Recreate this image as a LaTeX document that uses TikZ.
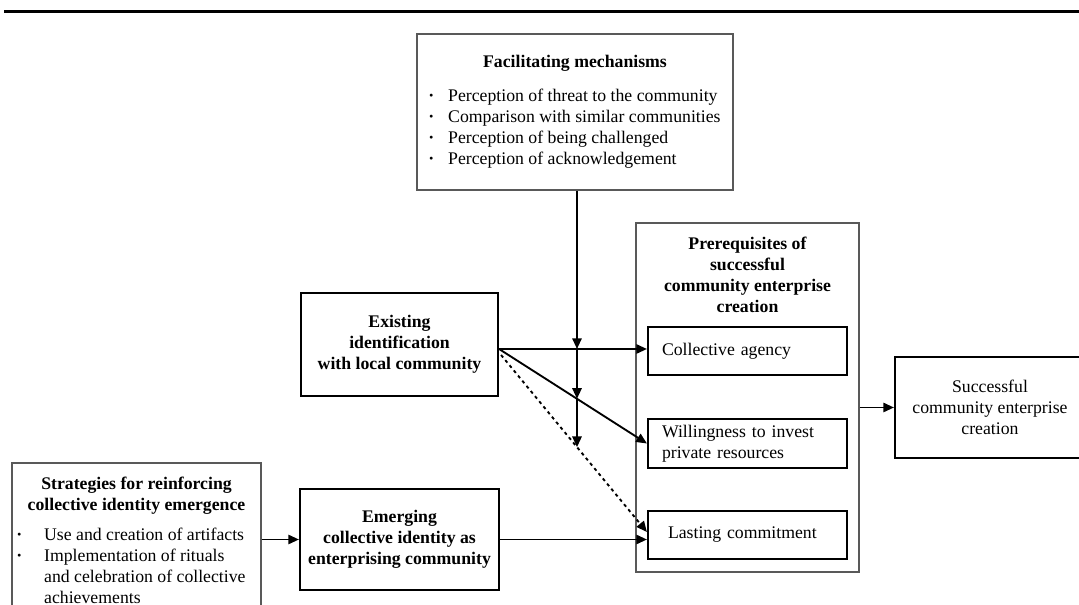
\documentclass[tikz,border=0pt]{standalone}
\usepackage{fontspec}
\setmainfont{Liberation Serif}
\usetikzlibrary{arrows.meta,calc,intersections}

\begin{document}
\begin{tikzpicture}[x=0.75pt,y=-0.75pt,
  every node/.style={font=\fontsize{13.3}{15.75}\selectfont, inner sep=0pt},
  thinbox/.style={draw=black!65, line width=0.8pt},
  thickbox/.style={draw=black, line width=1.6pt, align=center},
  lbl/.style={align=center, font=\fontsize{13.3}{15.75}\selectfont\bfseries},
  tip/.style={-{Triangle[length=8pt,width=7pt]}},
  link/.style={line width=1.4pt, tip},
  dotlink/.style={line width=1.4pt, dash pattern=on 2.4pt off 2.6pt, tip}
]
\useasboundingbox (0,0) rectangle (1079,605);

% rule above the figure
\draw[line width=2.25pt] (4,12) -- (1079,12);

% facilitating mechanisms
\node[thinbox, minimum width=237pt, minimum height=117pt] (fac) at (575,112) {};
\node[lbl] (factitle) at (575,63) {Facilitating mechanisms};
\node[anchor=west] (faclist) at (428,129) {%
  \begin{tabular}{@{}c@{\hspace{10.5pt}}l@{}}
  \textbf{·} & Perception of threat to the community\\
  \textbf{·} & Comparison with similar communities\\
  \textbf{·} & Perception of being challenged\\
  \textbf{·} & Perception of acknowledgement
  \end{tabular}};

% prerequisites
\node[thinbox, minimum width=167.25pt, minimum height=261.75pt] (pre) at (747.5,397.5) {};
\node[lbl] (pretitle) at (747.5,274.5) {Prerequisites of\\successful\\community enterprise\\creation};
\node[thickbox, minimum width=149.25pt, minimum height=36pt, text width=128.25pt, align=left] (agency) at (747.5,351) {Collective agency};
\node[thickbox, minimum width=149.25pt, minimum height=36.75pt, text width=128.25pt, align=left] (will) at (747.5,443.5) {Willingness to invest\\private resources};
\node[thickbox, minimum width=149.25pt, minimum height=36pt, text width=119.25pt, align=left] (last) at (747.5,535) {Lasting commitment};

% outcome
\node[thickbox, minimum width=142.5pt, minimum height=75.75pt] (succ) at (990,407.5) {Successful\\community enterprise\\creation};

% antecedents
\node[thickbox, font=\fontsize{13.3}{15.75}\selectfont\bfseries, minimum width=147.75pt, minimum height=77.25pt] (exist) at (399.5,344.5) {Existing\\identification\\with local community};
\node[thickbox, font=\fontsize{13.3}{15.75}\selectfont\bfseries, minimum width=149.25pt, minimum height=75.75pt] (emerg) at (399.5,539.5) {Emerging\\collective identity as\\enterprising community};

% strategies
\node[thinbox, minimum width=186.75pt, minimum height=125.25pt] (strat) at (136.5,546.5) {};
\node[lbl] (strattitle) at (136.5,495.5) {Strategies for reinforcing\\collective identity emergence};
\node[anchor=west] (stratlist) at (16,567.5) {%
  \begin{tabular}{@{}c@{\hspace{16.5pt}}l@{}}
  \textbf{·} & Use and creation of artifacts\\
  \textbf{·} & Implementation of rituals\\
   & and celebration of collective\\
   & achievements
  \end{tabular}};

% connectors
\coordinate (eo) at ($(exist.east)+(0,4.5)$);
\coordinate (ds) at ($(exist.east)+(2,10.5)$);
\coordinate (de) at ($(last.west)+(0,-3)$);
\coordinate (vtop) at ($(fac.south)+(2,0)$);
\coordinate (m1) at (vtop |- eo);

\path[name path=vline] (vtop) -- ++(0,320);
\path[name path=diag] (eo) -- (will.west);
\path[name path=dots] (ds) -- (de);
\path[name intersections={of=vline and diag, by=m2}];
\path[name intersections={of=vline and dots, by=m3}];

\draw[link] (eo) -- (eo -| agency.west);
\draw[link] (eo) -- (will.west);
\draw[dotlink] (ds) -- (de);
\draw[link] (emerg.east) -- (emerg.east -| last.west);
\draw[link] (emerg.west -| strat.east) -- (emerg.west);
\draw[link] (succ.west -| pre.east) -- (succ.west);

\draw[link] (vtop) -- (m1);
\draw[link] (m1) -- (m2);
\draw[link] (m2) -- (m3);
\end{tikzpicture}
\end{document}
